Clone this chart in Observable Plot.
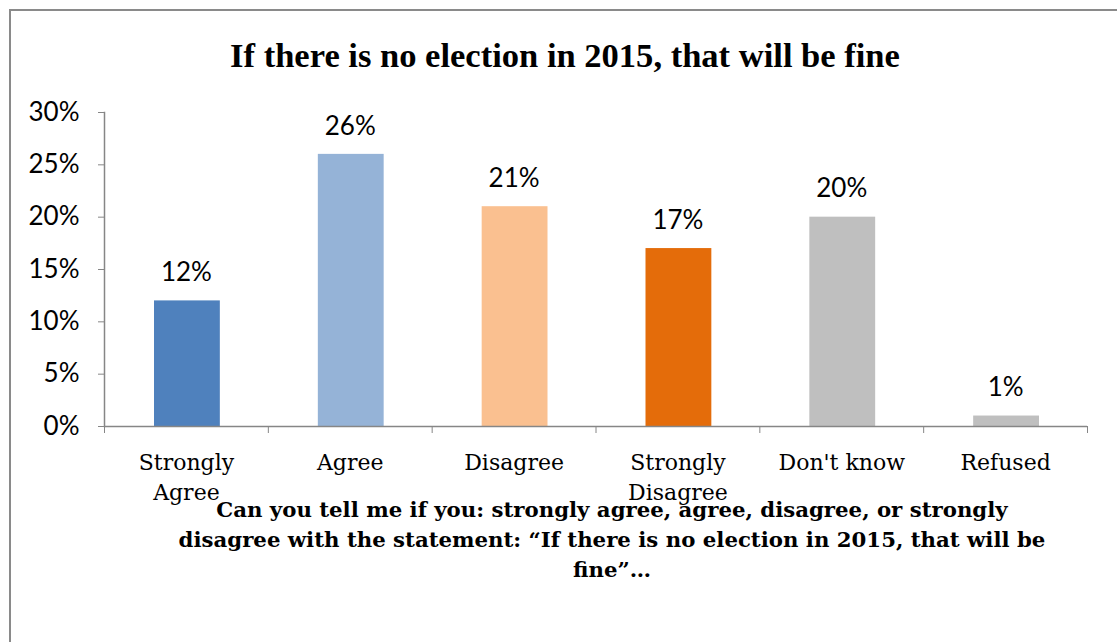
<!DOCTYPE html>
<html><head><meta charset="utf-8">
<script src="https://cdn.jsdelivr.net/npm/d3@7"></script>
<script src="https://cdn.jsdelivr.net/npm/@observablehq/plot@0.6"></script>
<style>
body{margin:0;background:#fff;}
#wrap{position:relative;width:1117px;height:642px;overflow:hidden;background:#fff;}
#border{position:absolute;left:9px;top:9px;width:1200px;height:700px;border:2px solid #8a8a8a;box-sizing:border-box;}
#chart{position:absolute;left:0;top:0;}
#title{position:absolute;left:0;width:1130px;top:37px;text-align:center;font-family:"Liberation Serif",serif;font-weight:bold;font-size:32px;line-height:36px;white-space:nowrap;color:#000;}
#caption{position:absolute;left:0;width:1224px;top:495px;text-align:center;font-family:"DejaVu Serif",serif;font-weight:bold;font-size:20px;line-height:30px;color:#000;}
#caption div{white-space:nowrap;}
span.m{display:inline-block;}
</style>
</head><body>
<div id="wrap">
  <div id="border"></div>
  <div id="chart"></div>
  <div id="title"><span class="m" id="titleText"></span></div>
  <div id="caption"></div>
</div>
<script>
const titleText = "If there is no election in 2015, that will be fine";
const captionLines = [
  "Can you tell me if you: strongly agree, agree, disagree, or strongly",
  "disagree with the statement: \u201cIf there is no election in 2015, that will be",
  "fine\u201d\u2026"
];
const cats = ["Strongly Agree","Agree","Disagree","Strongly Disagree","Don't know","Refused"];
const catLabels = ["Strongly\nAgree","Agree","Disagree","Strongly\nDisagree","Don't know","Refused"];
const values = [12,26,21,17,20,1];
const colors = ["#4F81BD","#95B3D7","#FAC090","#E46C0A","#BFBFBF","#BFBFBF"];
const yTicks = [0,5,10,15,20,25,30];

const data = cats.map((c,i)=>({cat:c, label:catLabels[i], value:values[i], color:colors[i]}));
const labelOf = new Map(cats.map((c,i)=>[c,catLabels[i]]));

const W=1117, H=642, ml=104, mr=30, mt=112, mb=216;
const step=(W-ml-mr)/cats.length;
const axisGray="#868686";

const chart = Plot.plot({
  width:W, height:H, marginLeft:ml, marginRight:mr, marginTop:mt, marginBottom:mb,
  style:{background:"transparent", color:"#000", overflow:"visible"},
  x:{domain:cats, padding:0, round:false},
  y:{domain:[0,30]},
  color:{type:"identity"},
  marks:[
    Plot.barY(data,{x:"cat", y:"value", fill:"color", insetLeft:50, insetRight:48}),
    Plot.ruleY([0],{stroke:axisGray, strokeWidth:1.5}),
    Plot.frame({anchor:"left", stroke:axisGray, strokeWidth:1.5}),
    Plot.axisY({ticks:yTicks, tickFormat:d=>d+"%", tickSize:6, tickPadding:19, stroke:axisGray, fill:"#000", fontSize:26, fontFamily:"Lato", label:null}),
    Plot.axisX({tickSize:7, tickFormat:()=>"", dx:-step/2, stroke:axisGray, label:null}),
    Plot.axisX({ticks:[cats[cats.length-1]], tickSize:7, tickFormat:()=>"", dx:step/2, stroke:axisGray, label:null}),
    Plot.axisX({tickSize:0, tickPadding:22, tickFormat:d=>labelOf.get(d), fontSize:22, fontFamily:"DejaVu Serif", lineHeight:1.364, fill:"#000", label:null}),
    Plot.text(data,{x:"cat", y:"value", text:d=>d.value+"%", dy:-28, lineAnchor:"middle", fontSize:26, fontFamily:"Lato", fill:"#000"})
  ]
});
document.getElementById("chart").appendChild(chart);

// title & caption
const tt = document.getElementById("titleText");
tt.textContent = titleText;
const cap = document.getElementById("caption");
captionLines.forEach(l=>{ const d=document.createElement("div"); const s=document.createElement("span"); s.className="m"; s.textContent=l; d.appendChild(s); cap.appendChild(d); });

function fit(el, sizeEl, target){
  const w = el.getBoundingClientRect().width;
  const fs = parseFloat(getComputedStyle(sizeEl).fontSize);
  sizeEl.style.fontSize = (fs*target/w)+"px";
}
fit(tt, document.getElementById("title"), 670);
fit(cap.querySelector("span"), cap, 792);
</script>
</body></html>
